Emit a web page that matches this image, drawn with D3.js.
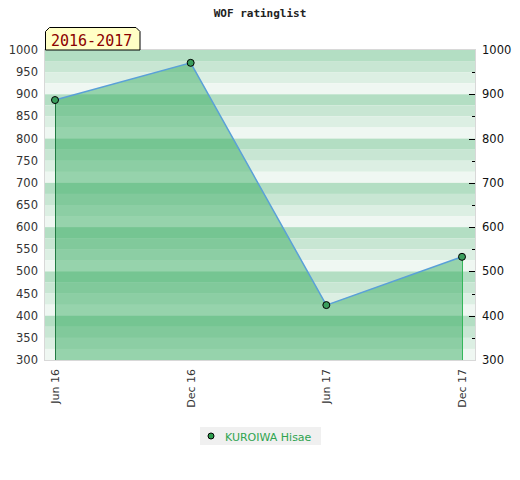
<!DOCTYPE html>
<html><head><meta charset="utf-8">
<script src="https://cdn.jsdelivr.net/npm/d3@7"></script>
<style>body{margin:0;background:#fff}svg{display:block}</style>
</head><body>
<svg id="c" width="520" height="480"></svg>
<script>
const categories = ["Jun 16", "Dec 16", "Jun 17", "Dec 17"];
const ratings = [887, 971, 424, 533];
const leftTicks = [300,350,400,450,500,550,600,650,700,750,800,850,900,950,1000];
const rightTicks = [300,400,500,600,700,800,900,1000];
const seriesName = "KUROIWA Hisae";
const periodLabel = "2016-2017";
const title = "WOF ratinglist";

const svg = d3.select("#c");
const L = 45, R = 475, T = 50, B = 360;
const y = d3.scaleLinear().domain([300, 1000]).range([B, T]);
const x = d3.scalePoint().domain(categories).range([55, 462]);

// background stripes
const stripeColors = ["#b3dec3", "#c8e6d3", "#dcefe3", "#eff7f2"];
const g = svg.append("g");
for (let v = 1000; v > 300; v -= 25) {
  const idx = ((1000 - v) / 25) % 4;
  g.append("rect").attr("x", L).attr("width", R - L)
    .attr("y", y(v)).attr("height", y(v - 25) - y(v))
    .attr("fill", stripeColors[idx]);
}
// plot border
svg.append("rect").attr("x", L - 0.5).attr("y", T - 0.5).attr("width", R - L + 1).attr("height", B - T + 1)
  .attr("fill", "none").attr("stroke", "#d8d8d8");

const pts = categories.map((c, i) => [x(c), y(ratings[i])]);
// area
const area = d3.area().x(d => d[0]).y0(y(300)).y1(d => d[1]);
svg.append("path").attr("d", area(pts)).attr("fill", "rgb(43,167,86)").attr("fill-opacity", 0.45);
// vertical end lines
svg.append("line").attr("x1", Math.round(pts[0][0]) + 0.5).attr("x2", Math.round(pts[0][0]) + 0.5).attr("y1", pts[0][1]).attr("y2", y(300))
  .attr("stroke", "#217a42").attr("stroke-width", 1);
svg.append("line").attr("x1", Math.round(pts[3][0]) + 0.5).attr("x2", Math.round(pts[3][0]) + 0.5).attr("y1", pts[3][1]).attr("y2", y(300))
  .attr("stroke", "#34b85a").attr("stroke-width", 1);
// line
svg.append("path").attr("d", d3.line()(pts)).attr("fill", "none").attr("stroke", "#5aa0d8").attr("stroke-width", 1.5);
// points
svg.selectAll("circle.p").data(pts).enter().append("circle").attr("class", "p")
  .attr("cx", d => d[0]).attr("cy", d => d[1]).attr("r", 3.5)
  .attr("fill", "#3a9e5c").attr("stroke", "#000").attr("stroke-width", 1);

// left axis labels
svg.append("g").selectAll("text").data(leftTicks).enter().append("text")
  .attr("x", 38).attr("y", d => y(d) + 4).attr("text-anchor", "end")
  .attr("font-family", "DejaVu Sans").attr("font-size", 11.5).attr("fill", "#333").text(d => d);

// right axis tick marks
svg.append("g").selectAll("line").data(leftTicks.filter(d => d > 300 && d < 1000)).enter().append("line")
  .attr("x1", d => d % 100 === 0 ? 469 : 472).attr("x2", 475)
  .attr("y1", d => Math.round(y(d)) + 0.5).attr("y2", d => Math.round(y(d)) + 0.5)
  .attr("stroke", "#000").attr("stroke-width", 1);
svg.append("g").selectAll("text").data(rightTicks).enter().append("text")
  .attr("x", 482).attr("y", d => y(d) + 4).attr("text-anchor", "start")
  .attr("font-family", "DejaVu Sans").attr("font-size", 11.5).attr("fill", "#111").text(d => d);

// x labels rotated
svg.append("g").selectAll("text").data(categories).enter().append("text")
  .attr("transform", d => `translate(${x(d) + 4},369) rotate(-90)`)
  .attr("text-anchor", "end")
  .attr("font-family", "DejaVu Sans").attr("font-size", 11).attr("fill", "#333").text(d => d);

// title
svg.append("text").attr("x", 260).attr("y", 17).attr("text-anchor", "middle")
  .attr("font-family", "DejaVu Sans Mono").attr("font-weight", "bold").attr("font-size", 11)
  .attr("fill", "#222").text(title);

// period label box with chamfered top corners
const bx0 = 45.5, bx1 = 140, by0 = 27.5, by1 = 50;
svg.append("path").attr("d", `M${bx0},${by1} L${bx0},${by0 + 4} L${bx0 + 4},${by0} L${bx1 - 4},${by0} L${bx1},${by0 + 4} L${bx1},${by1} Z`)
  .attr("fill", "#ffffc6").attr("stroke", "#000").attr("stroke-width", 1);
svg.append("text").attr("x", 51).attr("y", 46).attr("font-family", "DejaVu Sans Mono")
  .attr("font-size", 15).attr("fill", "#8b0000").text(periodLabel);

// legend
svg.append("rect").attr("x", 200).attr("y", 427).attr("width", 121).attr("height", 18).attr("fill", "#f0f0f0");
svg.append("circle").attr("cx", 211).attr("cy", 436).attr("r", 3).attr("fill", "#2e9e4e").attr("stroke", "#000");
svg.append("text").attr("x", 225).attr("y", 440.5).attr("font-family", "DejaVu Sans").attr("font-size", 11)
  .attr("fill", "#2ea44f").text(seriesName);
</script>
</body></html>
